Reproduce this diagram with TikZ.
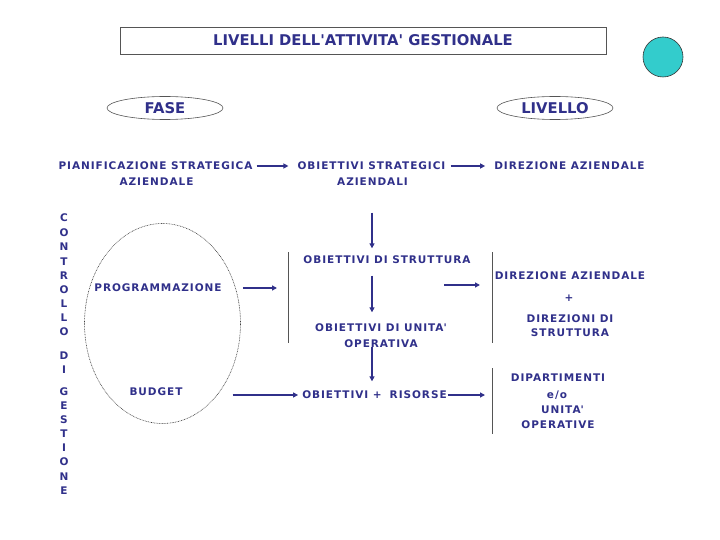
\documentclass[tikz,border=0pt]{standalone}
\usepackage{fontspec}
\setmainfont{DejaVu Sans}
\newfontfamily\smallf[LetterSpace=9]{DejaVu Sans}
\usetikzlibrary{arrows.meta,shapes.geometric}
\definecolor{navy}{HTML}{30308A}
\definecolor{teal1}{HTML}{33CCCC}
\definecolor{lgray}{HTML}{555555}
\newcommand{\apo}{\textquotesingle}
\begin{document}
\begin{tikzpicture}[x=1pt,y=-1pt,
  txt/.style={font=\smallf\bfseries\fontsize{10.5}{12.5}\selectfont, text=navy, inner sep=1pt},
  big/.style={font=\bfseries\fontsize{14.8}{17}\selectfont, text=navy, inner sep=0pt},
  arr/.style={draw=navy, line width=1.4pt, -{Triangle[length=5pt,width=5pt]}},
  vline/.style={draw=lgray, line width=0.6pt},
  oval/.style={ellipse, draw=lgray, line width=0.6pt, inner sep=0pt}]
\useasboundingbox (0,0) rectangle (720,540);
% header
\node[big, draw=lgray, line width=0.8pt, minimum width=486pt, minimum height=27pt] (title) at (363,40.5) {LIVELLI DELL\apo ATTIVITA\apo\ GESTIONALE};
\node[ellipse, fill=teal1, draw=black!80, line width=0.6pt, minimum width=40pt, minimum height=40pt] (dot) at (663,57) {};
\node[oval, big, minimum width=116pt, minimum height=23pt] (fase) at (165,108) {FASE};
\node[oval, big, minimum width=116pt, minimum height=23pt] (livello) at (555,108) {LIVELLO};
% row 1
\node[txt] (pian) at (155.5,166) {PIANIFICAZIONE STRATEGICA};
\node[txt] (pian2) at (156.5,182) {AZIENDALE};
\node[txt] (obs) at (371.5,166) {OBIETTIVI STRATEGICI};
\node[txt] (obs2) at (372.5,182) {AZIENDALI};
\node[txt] (dir1) at (569.5,166) {DIREZIONE AZIENDALE};
\draw[arr, shorten <=3pt, shorten >=8pt] (pian) -- (obs);
\draw[arr, shorten <=4pt, shorten >=8pt] (obs) -- (dir1);
% controllo di gestione
\foreach \l/\y [count=\i] in {C/218,O/233,N/247,T/262,R/276,O/290,L/304,L/318,O/332,D/356,I/370,G/392,E/406,S/420,T/434,I/448,O/462,N/477,E/491}
  \node[txt] (cg\i) at (64,\y) {\l};
% dotted ellipse
\node[ellipse, draw=black!75, dash pattern=on 0.8pt off 0.8pt, line width=0.6pt, minimum width=156pt, minimum height=200pt] (ell) at (162.5,323.5) {};
\node[txt] (prog) at (158,288) {PROGRAMMAZIONE};
\node[txt] (budget) at (156,392) {BUDGET};
% central column
\coordinate (colx) at (372,0);
\node[txt] (ostr) at (387,260) {OBIETTIVI DI STRUTTURA};
\node[txt] (ounit) at (381,328) {OBIETTIVI DI UNITA\apo};
\node[txt] (ounit2) at (381,344) {OPERATIVA};
\node[txt] (ors) at (374.5,395) {OBIETTIVI +\hspace{8pt}RISORSE};
\draw[arr, shorten <=25.5pt, shorten >=6.5pt] (colx |- obs2.south) -- (colx |- ostr.north);
\draw[arr, shorten <=10.5pt, shorten >=10.5pt] (colx |- ostr.south) -- (colx |- ounit.north);
\draw[arr, shorten <=3pt, shorten >=8.5pt] (colx |- ounit2) -- (colx |- ors.north);
% vertical lines
\coordinate (l1t) at (288,252);
\coordinate (l1b) at (288,343);
\draw[vline] (l1t) -- (l1b);
\coordinate (r1t) at (492,252);
\coordinate (r1b) at (492,343);
\draw[vline] (r1t) -- (r1b);
\coordinate (r2t) at (492,368);
\coordinate (r2b) at (492,434);
\draw[vline] (r2t) -- (r2b);
% horizontal arrows
\draw[arr, shorten <=20pt, shorten >=11pt] (prog.east) -- (prog.east -| l1t);
\coordinate (ra) at (444,285);
\draw[arr, shorten >=12pt] (ra) -- (ra -| r1t);
\draw[arr, shorten <=49pt, shorten >=3pt] (ors.west -| budget.east) -- (ors.west);
\draw[arr, shorten >=7pt] (ors.east) -- (ors.east -| r2t);
% right texts
\node[txt] (dir2) at (570,276) {DIREZIONE AZIENDALE};
\node[txt] (plus) at (569,298) {+};
\node[txt] (dirs) at (570,319) {DIREZIONI DI};
\node[txt] (dirs2) at (570,333) {STRUTTURA};
\node[txt] (dip1) at (558,378) {DIPARTIMENTI};
\node[txt] (dip2) at (557,395) {e/o};
\node[txt] (dip3) at (562.5,410) {UNITA\apo};
\node[txt] (dip4) at (558,425) {OPERATIVE};
\end{tikzpicture}
\end{document}
